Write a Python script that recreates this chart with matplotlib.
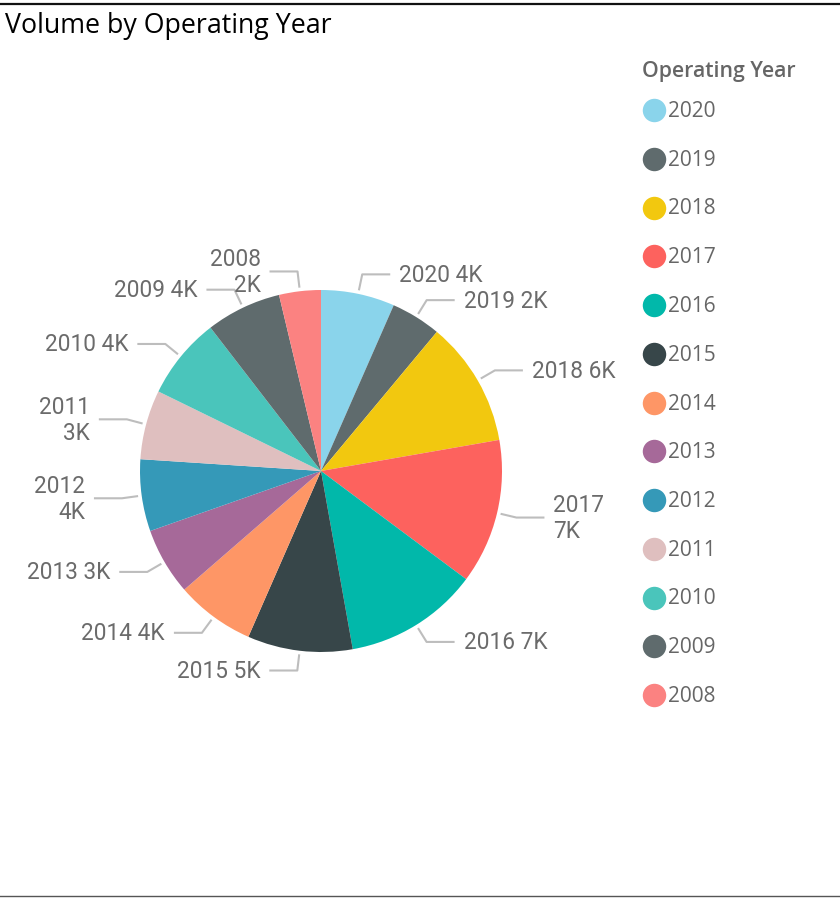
import numpy as np
import matplotlib
matplotlib.use("Agg")
import matplotlib.pyplot as plt
from matplotlib.lines import Line2D

# data (volume per operating year)
years = ["2020", "2019", "2018", "2017", "2016", "2015", "2014",
         "2013", "2012", "2011", "2010", "2009", "2008"]
volume = [3620, 2460, 6160, 7120, 6600, 5160, 3880,
          3300, 3530, 3410, 4020, 3700, 2050]
labels = ["2020 4K", "2019 2K", "2018 6K", "2017\n7K", "2016 7K", "2015 5K", "2014 4K",
          "2013 3K", "2012\n4K", "2011\n3K", "2010 4K", "2009 4K", "2008\n2K"]
colors = ["#8AD4EB", "#5F6B6D", "#F2C80F", "#FD625E", "#01B8AA", "#374649", "#FE9666",
          "#A66999", "#3599B8", "#DFBFBF", "#4AC5BB", "#5F6B6D", "#FB8281"]

W, H = 840, 898
fig = plt.figure(figsize=(W / 100, H / 100), dpi=100)
ax = fig.add_axes([0, 0, 1, 1])

cx, cy, R = 321, H - 471, 181
wedges, _ = ax.pie(volume, colors=colors, startangle=90, counterclock=False,
                   center=(cx, cy), radius=R, frame=True,
                   wedgeprops=dict(linewidth=0))
ax.set_xlim(0, W)
ax.set_ylim(0, H)
ax.set_aspect("equal")
ax.axis("off")

lab_font = dict(family=["Roboto", "DejaVu Sans"], fontsize=16.3, color="#6b6b6b")
for w, lab in zip(wedges, labels):
    a = np.deg2rad((w.theta1 + w.theta2) / 2)
    ux, uy = np.cos(a), np.sin(a)
    x0, y0 = cx + 1.02 * R * ux, cy + 1.02 * R * uy
    x1, y1 = cx + 1.11 * R * ux, cy + 1.11 * R * uy
    side = 1 if ux >= 0 else -1
    x2 = x1 + side * 28
    ax.plot([x0, x1, x2], [y0, y1, y1], color="#bdbdbd", lw=1.5,
            solid_capstyle="butt")
    ax.text(x2 + side * 9, y1 - 1, lab, ha="left" if side > 0 else "right",
            va="center", ma="left" if side > 0 else "right",
            linespacing=1.15, **lab_font)

# title
fig.text(5 / W, 1 - 26 / H, "Volume by Operating Year", family="Open Sans",
         fontsize=19.3, color="#000000", va="center", ha="left")

# legend
fig.text(642 / W, 1 - 71 / H, "Operating Year", family="Open Sans",
         fontweight="semibold", fontsize=15.3, color="#666666", va="center")
for i, (yr, c) in enumerate(zip(years, colors)):
    yy = H - (110 + i * 48.75)
    ax.scatter([654], [yy], s=285, color=c, linewidths=0)
    ax.text(668, yy - 1.5, yr, family="Open Sans", fontsize=15, color="#666666",
            va="center", ha="left")

# frame lines
fig.add_artist(Line2D([0, 1], [1 - 3.5 / H, 1 - 3.5 / H], color="#111111", lw=1.6))
fig.add_artist(Line2D([0, 1], [1 - 896 / H, 1 - 896 / H], color="#555555", lw=1.0))

fig.savefig("out.png", dpi=100)
